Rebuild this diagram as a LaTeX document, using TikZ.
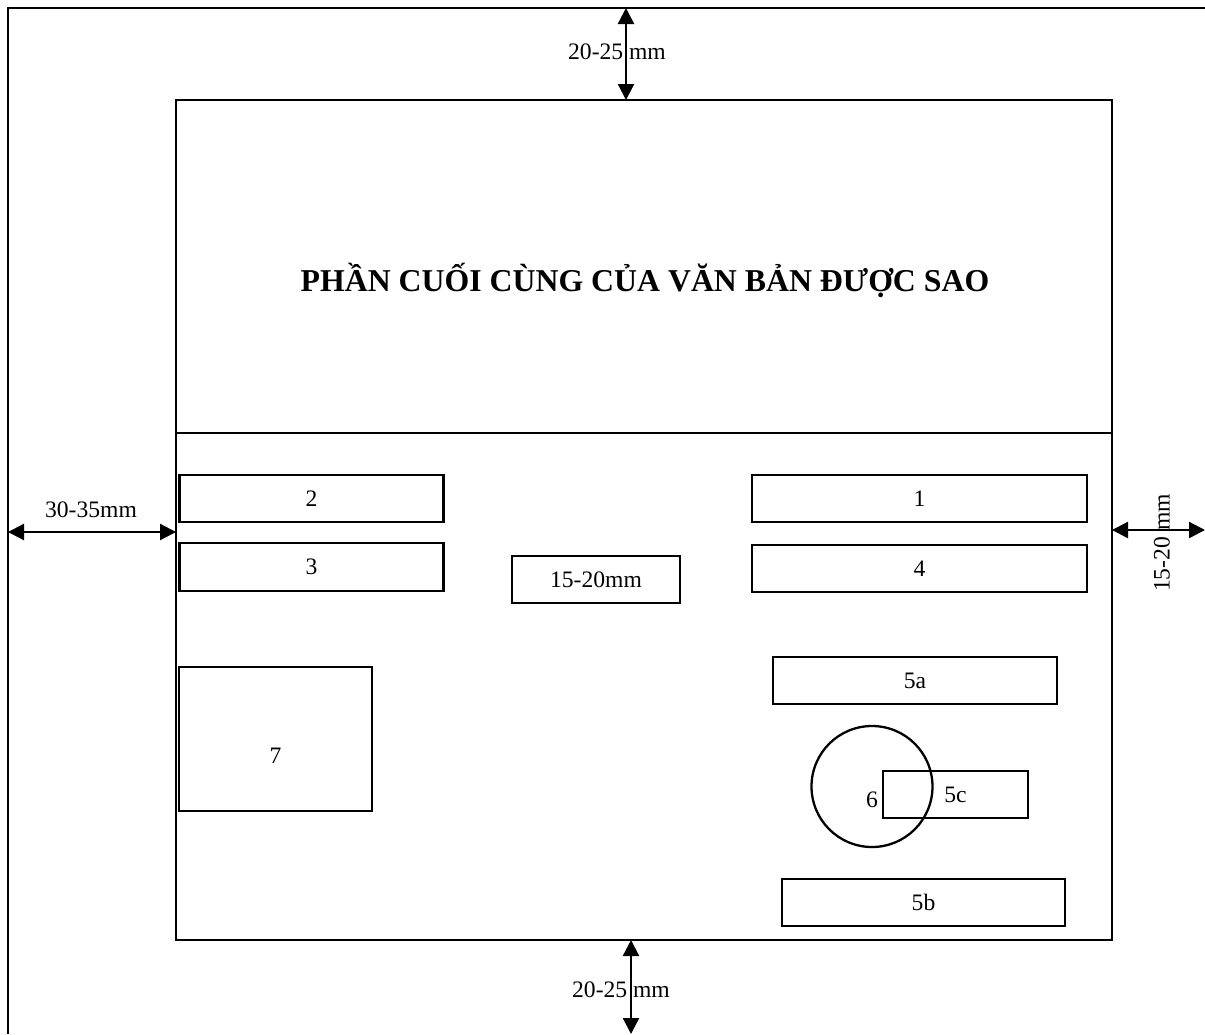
\documentclass[tikz,border=0pt]{standalone}
\usepackage{fontspec}
\setmainfont{Liberation Serif}
\usetikzlibrary{arrows.meta}
\begin{document}
\begin{tikzpicture}[x=0.5pt,y=-0.5pt,
  frame/.style={line width=1.15pt},
  box/.style={draw,line width=1.15pt,rectangle,inner sep=0pt,minimum height=23.5pt,font=\fontsize{11.8pt}{13pt}\selectfont},
  txt/.style={inner sep=0pt,font=\fontsize{11.8pt}{13pt}\selectfont},
  dim/.style={line width=1.15pt,{Triangle[length=8pt,width=8pt]}-{Triangle[length=8pt,width=8pt]}}]
\useasboundingbox (0,0) rectangle (1205,1034);
% outer page edges
\draw[frame] (8,1034) -- (8,8) -- (1205,8);
% inner area
\draw[frame] (176,100) rectangle (1112,940);
\draw[frame] (176,433) -- (1112,433);
\node[inner sep=0pt,font=\fontsize{15.9pt}{17pt}\selectfont\bfseries] (title) at (645,280) {PHẦN CUỐI CÙNG CỦA VĂN BẢN ĐƯỢC SAO};
% boxes
\node[box,minimum width=132pt] (b2) at (311.5,498.5) {2};
\node[box,minimum width=132pt,minimum height=24pt] (b3) at (311.5,567) {3};
\node[box,minimum width=84pt] (bmid) at (596,579.5) {15-20mm};
\node[box,minimum width=167.5pt] (b1) at (919.5,498.5) {1};
\node[box,minimum width=167.5pt] (b4) at (919.5,568.5) {4};
\node[box,minimum width=142pt] (b5a) at (915,680.5) {5a};
\node[box,minimum width=96.5pt,minimum height=72pt] (b7) at (275.5,739) {};
\node[txt] (t7) at (275.5,756) {7};
\node[box,minimum width=72.5pt] (b5c) at (955.5,794.5) {5c};
\node[draw,line width=1.15pt,circle,inner sep=0pt,minimum size=60.5pt] (c6) at (872,786.5) {};
\node[txt] (t6) at (872,800) {6};
\node[box,minimum width=141.5pt] (b5b) at (923.5,902.5) {5b};
% dimension arrows
\coordinate (topA) at (626,8);
\coordinate (topB) at (626,100);
\draw[dim] (topA) -- (topB);
\node[txt] (ltop) at (617,52) {20-25 mm};
\coordinate (botA) at (631,940);
\coordinate (botB) at (631,1034);
\draw[dim] (botA) -- (botB);
\node[txt] (lbot) at (621,990) {20-25 mm};
\coordinate (leftA) at (8,532);
\coordinate (leftB) at (176,532);
\draw[dim] (leftA) -- (leftB);
\node[txt] (lleft) at (91,510) {30-35mm};
\coordinate (rightA) at (1112,530);
\coordinate (rightB) at (1205,530);
\draw[dim] (rightA) -- (rightB);
\node[txt,rotate=90] (lright) at (1162,543) {15-20 mm};
\end{tikzpicture}
\end{document}
